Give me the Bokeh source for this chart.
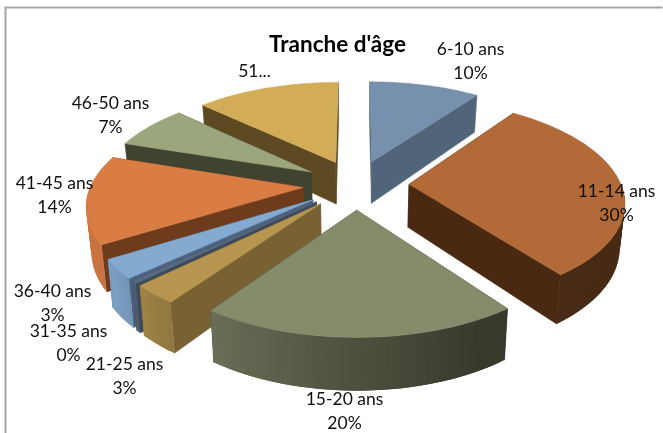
import numpy as np
from bokeh.plotting import figure
from bokeh.models import Range1d
from bokeh.core.properties import value
from bokeh.embed import file_html
from bokeh.resources import INLINE

categories = ["6-10 ans", "11-14 ans", "15-20 ans", "21-25 ans", "31-35 ans",
              "36-40 ans", "41-45 ans", "46-50 ans", "51..."]
shares = [10, 30, 20, 3, 0.4, 3, 14, 7, 13]
top_colors = ["#7690ad", "#b26a38", "#848c6c", "#b89650", "#5a6a80",
              "#85aad0", "#d97d45", "#9ca67c", "#d3ac58"]
wall_colors = ["#50657a", "#4a2912", "#3f422e", "#786233", "#3c4a5a",
               "#4c6280", "#6f3b1d", "#3f4330", "#5e4a22"]
paint_order = [0, 8, 7, 6, 1, 5, 4, 3, 2]
label_centers = [(470, 48), (616, 190), (344, 398), (124, 363), (68, 330),
                 (52, 290), (54, 182), (110, 102), (254, 70)]

W, H = 663, 433
CX, CY, RX, RY, PERSP, EXPL, DEPTH, SHRINK = 355.5, 184, 212, 98.8, 0.154, 0.25, 43, 0.98


def project(X, Y, bottom=False):
    s = 1 / (1 + PERSP * Y)
    x = RX * X * s
    y = -RY * Y * s
    if bottom:
        return CX + SHRINK * x, CY + y + DEPTH * s
    return CX + x, CY + y


def rim_shade(deg):
    return np.interp(deg, [90, 150, 180, 216, 235, 360], [.41, .41, .58, .8, .93, .93])


def scaled(color, f):
    rgb = [int(color[i:i + 2], 16) for i in (1, 3, 5)]
    return "#%02x%02x%02x" % tuple(int(min(255, c * f)) for c in rgb)


p = figure(width=W, height=H, x_range=Range1d(0, W), y_range=Range1d(H, 0),
           output_backend="svg", toolbar_location=None, min_border=0,
           outline_line_color=None, background_fill_color="white",
           styles={"position": "fixed", "left": "0px", "top": "0px"})
p.axis.visible = False
p.grid.visible = False

total = sum(shares)
edges = np.concatenate([[0], np.cumsum(shares)]) / total * 360

p.multi_line(xs=[[5, 5], [4, 662]], ys=[[433, 7], [7, 7]], line_color="#a6a6a6", line_width=2)

for i in paint_order:
    a0, a1 = edges[i], edges[i + 1]
    mid = np.radians((a0 + a1) / 2)
    ox, oy = EXPL * np.sin(mid), EXPL * np.cos(mid)
    deg = np.linspace(a0, a1, max(2, int((a1 - a0) / 1.5) + 2))
    rad = np.radians(deg)
    rx = ox + np.sin(rad)
    ry = oy + np.cos(rad)
    tx, ty = project(rx, ry)
    bx, by = project(rx, ry, True)
    ax, ay = project(ox, oy)
    abx, aby = project(ox, oy, True)
    # radial walls
    for k in (0, -1):
        xs = [ax, tx[k], bx[k], abx]
        ys = [ay, ty[k], by[k], aby]
        p.patch(xs, ys, fill_color=wall_colors[i], fill_alpha=1, line_color=wall_colors[i],
                line_alpha=1, line_width=0.5)
    # rim wall, shaded strip by strip; only the part facing the viewer
    for j in range(len(deg) - 1):
        m = (deg[j] + deg[j + 1]) / 2
        if not 90 <= m <= 272:
            continue
        c = scaled(top_colors[i], rim_shade(m))
        e = min(j + 2, len(deg) - 1)
        p.patch([tx[j], tx[e], bx[e], bx[j]], [ty[j], ty[e], by[e], by[j]],
                fill_color=c, fill_alpha=1, line_color=None)
    # top face
    p.patch(np.r_[ax, tx], np.r_[ay, ty], fill_color=top_colors[i], fill_alpha=1,
            line_color=top_colors[i], line_alpha=1, line_width=0.5)

font = value("Lato")
for name, share, (lx, ly) in zip(categories, shares, label_centers):
    p.text([lx], [ly], text=[name], text_font=font, text_font_size="17.5px",
           text_align="center", text_baseline="middle", text_color="#111111")
    if not name.endswith("..."):
        p.text([lx], [ly + 24], text=["%d%%" % round(share)], text_font=font, text_font_size="17.5px",
               text_align="center", text_baseline="middle", text_color="#111111")

p.text([337], [43], text=["Tranche d'âge"], text_font=font, text_font_size="22.5px",
       text_font_style="bold", text_align="center", text_baseline="middle", text_color="#000000")

open("out.html", "w").write(file_html(p, INLINE))
